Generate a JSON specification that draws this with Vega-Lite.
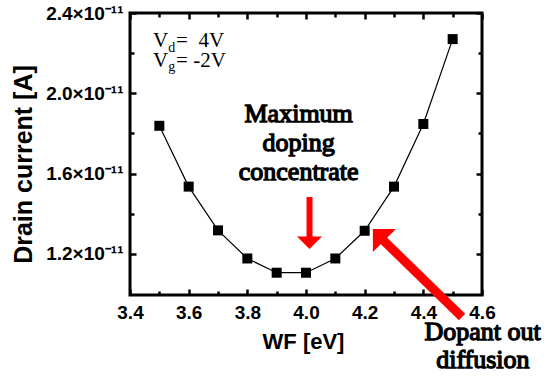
{
  "$schema": "https://vega.github.io/schema/vega-lite/v6.json",
  "width": 352,
  "height": 282,
  "autosize": {"type": "none"},
  "padding": {"left": 130, "top": 13, "right": 62, "bottom": 86},
  "background": "white",
  "config": {
    "view": {"stroke": "black", "strokeWidth": 3},
    "axis": {
      "domain": false, "grid": false, "tickColor": "black", "tickWidth": 2.5,
      "labelColor": "black", "titleColor": "black", "labelFlush": false,
      "labelFont": "Liberation Sans", "titleFont": "Liberation Sans",
      "labelFontWeight": "bold", "titleFontWeight": "bold"
    }
  },
  "datasets": {
    "main": [
      {"wf": 3.5, "current": 1.838e-11},
      {"wf": 3.6, "current": 1.535e-11},
      {"wf": 3.7, "current": 1.317e-11},
      {"wf": 3.8, "current": 1.177e-11},
      {"wf": 3.9, "current": 1.106e-11},
      {"wf": 4.0, "current": 1.106e-11},
      {"wf": 4.1, "current": 1.177e-11},
      {"wf": 4.2, "current": 1.315e-11},
      {"wf": 4.3, "current": 1.535e-11},
      {"wf": 4.4, "current": 1.847e-11},
      {"wf": 4.5, "current": 2.27e-11}
    ]
  },
  "layer": [
    {
      "data": {"name": "main"},
      "mark": {"type": "line", "color": "black", "strokeWidth": 1.2},
      "encoding": {
        "x": {"field": "wf", "type": "quantitative", "scale": {"domain": [3.4, 4.6], "nice": false, "zero": false},
          "axis": {"orient": "bottom", "values": [3.4, 3.6, 3.8, 4.0, 4.2, 4.4, 4.6], "format": ".1f", "tickSize": -6,
            "labelPadding": 14, "labelFontSize": 19, "title": "WF [eV]", "titleFontSize": 22,
            "titleX": 173, "titleY": 46, "titleBaseline": "middle"}},
        "y": {"field": "current", "type": "quantitative", "scale": {"domain": [0.995e-11, 2.4e-11], "nice": false, "zero": false},
          "axis": {"orient": "left", "values": [1.2e-11, 1.6e-11, 2.0e-11, 2.4e-11],
            "labelExpr": "format(datum.value*1e11,'.1f')+'×10⁻¹¹'", "tickSize": -6, "labelPadding": 13,
            "labelFontSize": 19, "title": "Drain current [A]", "titleFontSize": 25,
            "titleX": -107, "titleY": 151, "titleBaseline": "middle", "titleAngle": -90}}
      }
    },
    {
      "data": {"name": "main"},
      "mark": {"type": "square", "color": "black", "size": 100, "opacity": 1},
      "encoding": {
        "x": {"field": "wf", "type": "quantitative",
          "axis": {"orient": "bottom", "values": [3.5, 3.7, 3.9, 4.1, 4.3, 4.5], "labels": false, "tickSize": -4, "title": null}},
        "y": {"field": "current", "type": "quantitative",
          "axis": {"orient": "left", "values": [1.4e-11, 1.8e-11, 2.2e-11], "labels": false, "tickSize": -4, "title": null}}
      }
    },
    {
      "data": {"name": "main"},
      "mark": {"type": "point", "opacity": 0},
      "encoding": {
        "x": {"field": "wf", "type": "quantitative",
          "axis": {"orient": "top", "values": [3.4, 3.6, 3.8, 4.0, 4.2, 4.4, 4.6], "labels": false, "tickSize": -6, "title": null}},
        "y": {"field": "current", "type": "quantitative",
          "axis": {"orient": "right", "values": [1.2e-11, 1.6e-11, 2.0e-11, 2.4e-11], "labels": false, "tickSize": -6, "title": null}}
      }
    },
    {
      "data": {"name": "main"},
      "mark": {"type": "point", "opacity": 0},
      "encoding": {
        "x": {"field": "wf", "type": "quantitative",
          "axis": {"orient": "top", "values": [3.5, 3.7, 3.9, 4.1, 4.3, 4.5], "labels": false, "tickSize": -4, "title": null}},
        "y": {"field": "current", "type": "quantitative",
          "axis": {"orient": "right", "values": [1.4e-11, 1.8e-11, 2.2e-11], "labels": false, "tickSize": -4, "title": null}}
      }
    },
    {
      "data": {"values": [
        {"wf": 4.012, "current": 1.483e-11, "wf2": 4.012, "current2": 1.279e-11}
      ]},
      "mark": {"type": "rule", "color": "#ff0000", "strokeWidth": 6, "strokeCap": "butt"},
      "encoding": {
        "x": {"field": "wf", "type": "quantitative", "axis": null},
        "y": {"field": "current", "type": "quantitative", "axis": null},
        "x2": {"field": "wf2"},
        "y2": {"field": "current2"}
      }
    },
    {
      "data": {"values": [
        {"wf": 4.259, "current": 1.274e-11, "wf2": 4.532, "current2": 0.885e-11}
      ]},
      "mark": {"type": "rule", "color": "#ff0000", "strokeWidth": 9, "strokeCap": "butt"},
      "encoding": {
        "x": {"field": "wf", "type": "quantitative", "axis": null},
        "y": {"field": "current", "type": "quantitative", "axis": null},
        "x2": {"field": "wf2"},
        "y2": {"field": "current2"}
      }
    },
    {
      "data": {"values": [{"wf": 4.012, "current": 1.224e-11}]},
      "mark": {"type": "point", "shape": "M -1 -1 L 1 -1 L 0 0 Z", "size": 625, "filled": true, "color": "#ff0000", "opacity": 1, "strokeWidth": 0},
      "encoding": {
        "x": {"field": "wf", "type": "quantitative", "axis": null},
        "y": {"field": "current", "type": "quantitative", "axis": null}
      }
    },
    {
      "data": {"values": [{"wf": 4.228, "current": 1.324e-11}]},
      "mark": {"type": "point", "shape": "M 0 0 L 2 0 L 0 2 Z", "size": 529, "filled": true, "color": "#ff0000", "opacity": 1, "strokeWidth": 0},
      "encoding": {
        "x": {"field": "wf", "type": "quantitative", "axis": null},
        "y": {"field": "current", "type": "quantitative", "axis": null}
      }
    },
    {
      "data": {"values": [
        {"wf": 3.975, "current": 1.857e-11, "label": "Maximum"},
        {"wf": 3.975, "current": 1.712e-11, "label": "doping"},
        {"wf": 3.975, "current": 1.568e-11, "label": "concentrate"},
        {"wf": 4.602, "current": 0.771e-11, "label": "Dopant out"},
        {"wf": 4.603, "current": 0.631e-11, "label": "diffusion"}
      ]},
      "mark": {"type": "text", "font": "Liberation Serif", "fontWeight": "normal", "fontSize": 26, "align": "center", "baseline": "alphabetic", "color": "black", "stroke": "black", "strokeWidth": 1.3},
      "encoding": {
        "x": {"field": "wf", "type": "quantitative", "axis": null},
        "y": {"field": "current", "type": "quantitative", "axis": null},
        "text": {"field": "label"}
      }
    },
    {
      "data": {"values": [
        {"wf": 3.478, "current": 2.231e-11, "label": "V"},
        {"wf": 3.557, "current": 2.231e-11, "label": "=\u00a0\u00a04V"},
        {"wf": 3.478, "current": 2.131e-11, "label": "V"},
        {"wf": 3.557, "current": 2.131e-11, "label": "= -2V"}
      ]},
      "mark": {"type": "text", "font": "Liberation Serif", "fontSize": 21, "align": "left", "baseline": "alphabetic", "color": "black"},
      "encoding": {
        "x": {"field": "wf", "type": "quantitative", "axis": null},
        "y": {"field": "current", "type": "quantitative", "axis": null},
        "text": {"field": "label"}
      }
    },
    {
      "data": {"values": [
        {"wf": 3.53, "current": 2.206e-11, "label": "d"},
        {"wf": 3.53, "current": 2.111e-11, "label": "g"}
      ]},
      "mark": {"type": "text", "font": "Liberation Serif", "fontSize": 14, "align": "left", "baseline": "alphabetic", "color": "black"},
      "encoding": {
        "x": {"field": "wf", "type": "quantitative", "axis": null},
        "y": {"field": "current", "type": "quantitative", "axis": null},
        "text": {"field": "label"}
      }
    }
  ],
  "resolve": {"axis": {"x": "independent", "y": "independent"}}
}
